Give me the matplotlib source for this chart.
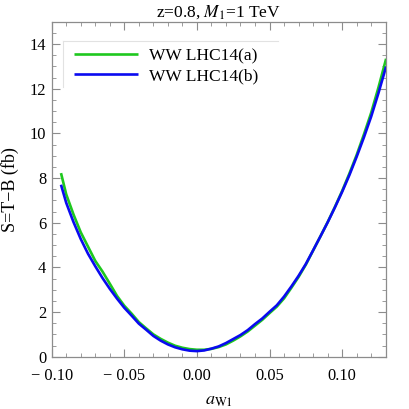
import matplotlib
matplotlib.use("Agg")
import matplotlib.pyplot as plt
from matplotlib.ticker import MultipleLocator, FuncFormatter
from matplotlib.lines import Line2D

# ---- data ----
x_a = [-0.0936, -0.09, -0.085, -0.08, -0.075, -0.07, -0.065, -0.06, -0.055, -0.05,
       -0.045, -0.04, -0.035, -0.03, -0.025, -0.02, -0.015, -0.01, -0.005, 0.0,
       0.005, 0.01, 0.015, 0.02, 0.025, 0.03, 0.035, 0.04, 0.045, 0.05,
       0.055, 0.06, 0.065, 0.07, 0.075, 0.08, 0.085, 0.09, 0.095, 0.10,
       0.105, 0.11, 0.115, 0.12, 0.125, 0.1303]
s_a = [8.22, 7.27, 6.37, 5.57, 4.93, 4.29, 3.81, 3.27, 2.72, 2.28,
       1.93, 1.55, 1.27, 1.00, 0.80, 0.63, 0.49, 0.40, 0.34, 0.31,
       0.31, 0.35, 0.43, 0.55, 0.72, 0.91, 1.13, 1.39, 1.65, 1.95,
       2.24, 2.61, 3.08, 3.57, 4.12, 4.75, 5.38, 6.02, 6.70, 7.42,
       8.20, 9.03, 9.95, 10.92, 12.05, 13.34]

x_b = x_a
s_b = [7.70, 6.89, 6.03, 5.27, 4.61, 4.05, 3.52, 3.04, 2.60, 2.19,
       1.84, 1.48, 1.21, 0.93, 0.72, 0.55, 0.42, 0.33, 0.27, 0.25,
       0.28, 0.36, 0.46, 0.61, 0.79, 0.97, 1.19, 1.46, 1.71, 2.01,
       2.30, 2.69, 3.14, 3.62, 4.15, 4.76, 5.38, 6.01, 6.68, 7.38,
       8.13, 8.95, 9.82, 10.75, 11.80, 12.99]

label_a = "WW LHC14(a)"
label_b = "WW LHC14(b)"
title = "z=0.8, $M_1$=1 TeV"
xlabel = r"$a_{\rm W1}$"
ylabel = "S=T\u2212B (fb)"

# ---- style ----
plt.rcParams['font.family'] = ['Liberation Serif', 'DejaVu Serif']
plt.rcParams['mathtext.fontset'] = 'stix'

fig = plt.figure(figsize=(4.09, 4.09), dpi=100)
ax = fig.add_axes([0.1264, 0.1279, 0.8166, 0.8191])

green = '#1ec81e'
blue = '#0a0af0'
ax.plot(x_a, s_a, color=green, lw=1.9, label=label_a, solid_capstyle='butt')
ax.plot(x_b, s_b, color=blue, lw=1.9, label=label_b, solid_capstyle='butt')

ax.set_xlim(-0.10, 0.13)
ax.set_ylim(0, 15)

ax.xaxis.set_major_locator(MultipleLocator(0.05))
ax.xaxis.set_minor_locator(MultipleLocator(0.01))
ax.yaxis.set_major_locator(MultipleLocator(2))
ax.yaxis.set_minor_locator(MultipleLocator(0.5))

def xfmt(v, pos):
    s = "%.2f" % abs(v)
    if v < -1e-9:
        return "\u2212 " + s
    return s

ax.xaxis.set_major_formatter(FuncFormatter(xfmt))
ax.yaxis.set_major_formatter(FuncFormatter(lambda v, p: "%d" % round(v)))

framec = '#8c8c8c'
for sp in ax.spines.values():
    sp.set_color(framec)
    sp.set_linewidth(0.9)
ax.tick_params(which='both', direction='in', top=True, right=True,
               color=framec, labelsize=11.8, labelcolor='black')
ax.tick_params(which='major', length=5.5, width=0.8)
ax.tick_params(which='minor', length=3, width=0.6)
ax.tick_params(axis='x', which='major', pad=8)
ax.tick_params(axis='y', which='major', pad=4)

ax.set_title(title, fontsize=12.5, pad=4)
ax.set_xlabel(xlabel, fontsize=13, labelpad=6)
ax.set_ylabel(ylabel, fontsize=13, labelpad=8)

leg = ax.legend(loc='upper left', bbox_to_anchor=(0.045, 0.942),
                borderaxespad=0, frameon=False, fontsize=12.5,
                handlelength=3.7, handletextpad=0.6, labelspacing=0.2,
                borderpad=0.42)
# light legend frame edges (top and left)
ax.add_line(Line2D([0.035, 0.678], [0.942, 0.942], transform=ax.transAxes,
                   color='#e2e2e2', lw=0.8))
ax.add_line(Line2D([0.035, 0.035], [0.806, 0.942], transform=ax.transAxes,
                   color='#e2e2e2', lw=0.8))

fig.savefig("out.png", dpi=100)
